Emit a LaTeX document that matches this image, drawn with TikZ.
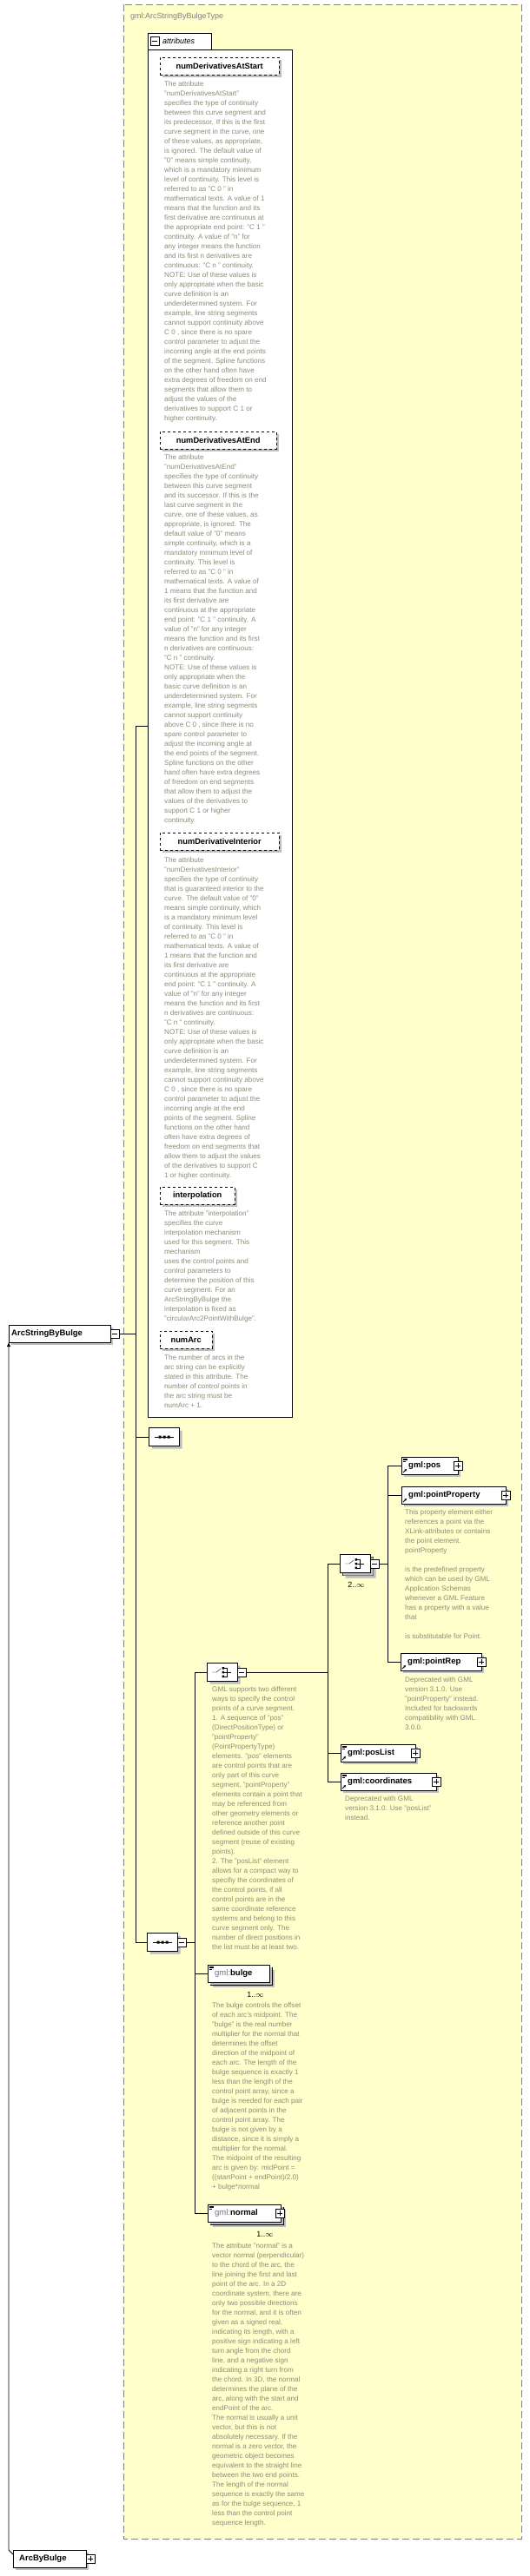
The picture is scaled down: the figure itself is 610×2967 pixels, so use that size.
\documentclass[tikz,border=0pt]{standalone}
\usepackage{fontspec}
\setmainfont{Liberation Sans}
\usetikzlibrary{shapes.misc,shadows,arrows.meta}
\definecolor{yel}{RGB}{255,255,204}
\definecolor{shadowcol}{RGB}{190,190,190}
\definecolor{desccol}{RGB}{140,140,120}
\definecolor{bordgray}{RGB}{128,128,128}
\definecolor{pfx}{RGB}{110,110,140}
\newcommand\dsc[4]{\node[dsc] (#1) at (#2,#3) {#4};}
\newcommand\pmb[4]{\node[pmbox] (#1) at (#2,#3) {};
  \draw (#2-3,#3) -- (#2+3,#3);
  \ifx+#4\draw (#2,#3-3) -- (#2,#3+3);\fi}
\newcommand\lines[2]{\draw[line width=0.5pt] (#1+2,#2+2) -- (#1+7,#2+2) (#1+2,#2+3.5) -- (#1+7,#2+3.5) (#1+2,#2+5) -- (#1+5,#2+5);}
\newcommand\refarr[2]{\draw[line width=0.9pt,-{Triangle[length=2.5pt,width=2.5pt]}] (#1+2,#2-2) -- (#1+6,#2-6);}
\newcommand\choiceicon[2]{%
  \draw (#1-12,#2) -- (#1-7,#2) -- (#1-2,#2-4);
  \fill (#1-0.5,#2-6) rectangle ++(2.5,2.5) (#1-0.5,#2-1.25) rectangle ++(2.5,2.5) (#1-0.5,#2+3.5) rectangle ++(2.5,2.5);
  \draw (#1+2,#2-5) -- (#1+5,#2-5) -- (#1+5,#2+5) -- (#1+2,#2+5) (#1+2,#2) -- (#1+10,#2);}
\newcommand\seqicon[2]{%
  \draw (#1-11,#2) -- (#1+11,#2);
  \fill (#1-6.5,#2-1.5) rectangle ++(3,3) (#1-1.5,#2-1.5) rectangle ++(3,3) (#1+3.5,#2-1.5) rectangle ++(3,3);}
\tikzset{
  shad/.style={drop shadow={shadow xshift=3pt,shadow yshift=-3pt,fill=shadowcol,opacity=1}},
  elem/.style={draw=black,fill=white,anchor=west,minimum height=20pt,inner xsep=3pt,inner ysep=0pt,
    font=\bfseries\fontsize{9.5}{11}\selectfont,align=left,shad},
  attrh/.style={draw=black,dashed,fill=white,anchor=west,minimum height=20pt,inner xsep=4pt,inner ysep=0pt,
    font=\bfseries\fontsize{9.3}{11}\selectfont,align=left,shad},
  dsc/.style={anchor=north west,inner sep=0pt,align=left,text=desccol,font=\fontsize{8.1}{11}\selectfont},
  pmbox/.style={draw=black,fill=white,minimum size=10pt,inner sep=0pt},
  symb/.style={draw=black,fill=white,chamfered rectangle,chamfered rectangle xsep=5pt,chamfered rectangle ysep=5pt,
    minimum width=35pt,minimum height=21pt,inner sep=0pt,shad},
  card/.style={font=\fontsize{9}{11}\selectfont,inner sep=0pt},
  ln/.style={draw=black,line width=0.8pt}
}
\begin{document}
\begin{tikzpicture}[x=1pt,y=-1pt]
\useasboundingbox (0,0) rectangle (610,2967);
% type container
\draw[fill=yel,draw=bordgray,dash pattern=on 8pt off 4pt,line width=0.8pt] (142,5) rectangle (600,2924);
\node[anchor=west,text=bordgray,font=\fontsize{9}{11}\selectfont,inner sep=0] (title) at (150,19) {gml:ArcStringByBulgeType};
% attributes container
\node[draw=black,fill=white,line width=0.8pt,anchor=north west,minimum width=166pt,minimum height=1575pt,inner sep=0] (attrs) at (170,57) {};
\node[draw=black,fill=white,line width=0.8pt,anchor=south west,minimum width=73pt,minimum height=19pt,inner sep=0] (attrtab) at (170,57.4) {};
\node[anchor=west,font=\itshape\fontsize{9}{11}\selectfont,inner sep=0] (attrlbl) at (187,47.5) {attributes};
\pmb{attrmin}{178}{47.5}{-}
% attributes
\node[attrh,minimum width=137pt] (a1) at (184,76) {numDerivativesAtStart};
\dsc{a1d}{189}{93}{The attribute\\"numDerivativesAtStart"\\specifies the type of continuity\\between this curve segment and\\its predecessor. If this is the first\\curve segment in the curve, one\\of these values, as appropriate,\\is ignored. The default value of\\"0" means simple continuity,\\which is a mandatory minimum\\level of continuity. This level is\\referred to as "C 0 " in\\mathematical texts. A value of 1\\means that the function and its\\first derivative are continuous at\\the appropriate end point: "C 1 "\\continuity. A value of "n" for\\any integer means the function\\and its first n derivatives are\\continuous: "C n " continuity.\\NOTE: Use of these values is\\only appropriate when the basic\\curve definition is an\\underdetermined system. For\\example, line string segments\\cannot support continuity above\\C 0 , since there is no spare\\control parameter to adjust the\\incoming angle at the end points\\of the segment. Spline functions\\on the other hand often have\\extra degrees of freedom on end\\segments that allow them to\\adjust the values of the\\derivatives to support C 1 or\\higher continuity.}
\node[attrh,minimum width=134pt] (a2) at (184,507) {numDerivativesAtEnd};
\dsc{a2d}{189}{523}{The attribute\\"numDerivativesAtEnd"\\specifies the type of continuity\\between this curve segment\\and its successor. If this is the\\last curve segment in the\\curve, one of these values, as\\appropriate, is ignored. The\\default value of "0" means\\simple continuity, which is a\\mandatory minimum level of\\continuity. This level is\\referred to as "C 0 " in\\mathematical texts. A value of\\1 means that the function and\\its first derivative are\\continuous at the appropriate\\end point: "C 1 " continuity. A\\value of "n" for any integer\\means the function and its first\\n derivatives are continuous:\\"C n " continuity.\\NOTE: Use of these values is\\only appropriate when the\\basic curve definition is an\\underdetermined system. For\\example, line string segments\\cannot support continuity\\above C 0 , since there is no\\spare control parameter to\\adjust the incoming angle at\\the end points of the segment.\\Spline functions on the other\\hand often have extra degrees\\of freedom on end segments\\that allow them to adjust the\\values of the derivatives to\\support C 1 or higher\\continuity.}
\node[attrh,minimum width=137pt] (a3) at (184,969) {numDerivativeInterior};
\dsc{a3d}{189}{987}{The attribute\\"numDerivativesInterior"\\specifies the type of continuity\\that is guaranteed interior to the\\curve. The default value of "0"\\means simple continuity, which\\is a mandatory minimum level\\of continuity. This level is\\referred to as "C 0 " in\\mathematical texts. A value of\\1 means that the function and\\its first derivative are\\continuous at the appropriate\\end point: "C 1 " continuity. A\\value of "n" for any integer\\means the function and its first\\n derivatives are continuous:\\"C n " continuity.\\NOTE: Use of these values is\\only appropriate when the basic\\curve definition is an\\underdetermined system. For\\example, line string segments\\cannot support continuity above\\C 0 , since there is no spare\\control parameter to adjust the\\incoming angle at the end\\points of the segment. Spline\\functions on the other hand\\often have extra degrees of\\freedom on end segments that\\allow them to adjust the values\\of the derivatives to support C\\1 or higher continuity.}
\node[attrh,minimum width=86pt] (a4) at (184,1377) {interpolation};
\dsc{a4d}{189}{1394}{The attribute "interpolation"\\specifies the curve\\interpolation mechanism\\used for this segment. This\\mechanism\\uses the control points and\\control parameters to\\determine the position of this\\curve segment. For an\\ArcStringByBulge the\\interpolation is fixed as\\"circularArc2PointWithBulge".}
\node[attrh,minimum width=60pt] (a5) at (184,1543) {numArc};
\dsc{a5d}{189}{1560}{The number of arcs in the\\arc string can be explicitly\\stated in this attribute. The\\number of control points in\\the arc string must be\\numArc + 1.}
% root element
\node[elem,minimum width=117pt,text width=111pt] (root) at (10,1536) {ArcStringByBulge};
\pmb{rootmin}{132}{1536}{-}
\coordinate (bus) at (156,1536);
\draw[ln] (rootmin.east) -- (bus);
\draw[ln] (156,836) -- (156,2237);
\draw[ln] (156,836) -- (attrs.west |- 0,836);
% sequence 1
\node[symb] (seq1) at (189,1655) {};
\seqicon{189}{1655}
\draw[ln] (156,1655) -- (seq1.west);
% sequence 2
\node[symb] (seq2) at (187,2237) {};
\seqicon{187}{2237}
\pmb{seq2min}{209}{2237}{-}
\draw[ln] (156,2237) -- (seq2.west);
\draw[ln] (seq2min.east) -- (224,2237);
\draw[ln] (224,1926) -- (224,2549);
% outer choice
\node[symb] (ch1) at (256,1926) {};
\choiceicon{256}{1926}
\pmb{ch1min}{278}{1926}{-}
\draw[ln] (224,1926) -- (ch1.west);
\draw[ln] (ch1min.east) -- (377,1926);
\draw[ln] (377,1801) -- (377,2052);
\dsc{ch1d}{244}{1942}{GML supports two different\\ways to specify the control\\points of a curve segment.\\1. A sequence of "pos"\\(DirectPositionType) or\\"pointProperty"\\(PointPropertyType)\\elements. "pos" elements\\are control points that are\\only part of this curve\\segment, "pointProperty"\\elements contain a point that\\may be referenced from\\other geometry elements or\\reference another point\\defined outside of this curve\\segment (reuse of existing\\points).\\2. The "posList" element\\allows for a compact way to\\specifiy the coordinates of\\the control points, if all\\control points are in the\\same coordinate reference\\systems and belong to this\\curve segment only. The\\number of direct positions in\\the list must be at least two.}
% inner choice (stacked)
\node[symb] (ch2b) at (412,1804) {};
\node[symb] (ch2) at (409,1801) {};
\choiceicon{409}{1801}
\pmb{ch2min}{431}{1801}{-}
\node[card] (ch2c) at (410,1825) {2..$\infty$};
\draw[ln] (377,1801) -- (ch2.west);
\draw[ln] (ch2min.east) -- (446,1801);
\draw[ln] (446,1688) -- (446,1914);
% pos
\node[elem,minimum width=65pt,text width=59pt] (pos) at (462,1688) {\hspace{5pt}gml:pos};
\lines{462}{1678}\refarr{462}{1698}
\pmb{posplus}{527}{1688}{+}
\draw[ln] (446,1688) -- (pos.west);
% pointProperty
\node[elem,minimum width=120pt,text width=114pt] (pp) at (462,1722) {\hspace{5pt}gml:pointProperty};
\refarr{462}{1732}
\pmb{ppplus}{582}{1722}{+}
\draw[ln] (446,1722) -- (pp.west);
\dsc{ppd}{466}{1738}{This property element either\\references a point via the\\XLink-attributes or contains\\the point element.\\pointProperty\\\mbox{}\\is the predefined property\\which can be used by GML\\Application Schemas\\whenever a GML Feature\\has a property with a value\\that\\\mbox{}\\is substitutable for Point.}
% pointRep
\node[elem,minimum width=93pt,text width=87pt] (pr) at (461,1914) {\hspace{5pt}gml:pointRep};
\refarr{461}{1924}
\pmb{prplus}{554}{1914}{+}
\draw[ln] (446,1914) -- (pr.west);
\dsc{prd}{466}{1931}{Deprecated with GML\\version 3.1.0. Use\\"pointProperty" instead.\\Included for backwards\\compatibility with GML\\3.0.0.}
% posList
\node[elem,minimum width=86pt,text width=80pt] (pl) at (392,2019) {\hspace{5pt}gml:posList};
\lines{392}{2009}\refarr{392}{2029}
\pmb{plplus}{478}{2019}{+}
\draw[ln] (377,2019) -- (pl.west);
% coordinates
\node[elem,minimum width=110pt,text width=104pt] (co) at (392,2052) {\hspace{5pt}gml:coordinates};
\lines{392}{2042}\refarr{392}{2062}
\pmb{coplus}{502}{2052}{+}
\draw[ln] (377,2052) -- (co.west);
\dsc{cod}{397}{2068}{Deprecated with GML\\version 3.1.0. Use "posList"\\instead.}
% bulge
\node[elem,minimum width=71pt,text width=65pt] (bgb) at (242,2276) {};
\node[elem,minimum width=71pt,text width=65pt] (bg) at (239,2273) {\hspace{5pt}{\mdseries\color{pfx}gml:}bulge};
\lines{239}{2263}
\node[card] (bgc) at (294,2297) {1..$\infty$};
\draw[ln] (224,2273) -- (bg.west);
\dsc{bgd}{244}{2306}{The bulge controls the offset\\of each arc's midpoint. The\\"bulge" is the real number\\multiplier for the normal that\\determines the offset\\direction of the midpoint of\\each arc. The length of the\\bulge sequence is exactly 1\\less than the length of the\\control point array, since a\\bulge is needed for each pair\\of adjacent points in the\\control point array. The\\bulge is not given by a\\distance, since it is simply a\\multiplier for the normal.\\The midpoint of the resulting\\arc is given by: midPoint =\\((startPoint + endPoint)/2.0)\\+ bulge*normal}
% normal
\node[elem,minimum width=84pt,text width=78pt] (nob) at (242,2552) {};
\node[elem,minimum width=84pt,text width=78pt] (no) at (239,2549) {\hspace{5pt}{\mdseries\color{pfx}gml:}normal};
\lines{239}{2539}
\pmb{noplus}{322}{2549}{+}
\node[card] (noc) at (305,2573) {1..$\infty$};
\draw[ln] (224,2549) -- (no.west);
\dsc{nod}{244}{2583}{The attribute "normal" is a\\vector normal (perpendicular)\\to the chord of the arc, the\\line joining the first and last\\point of the arc. In a 2D\\coordinate system, there are\\only two possible directions\\for the normal, and it is often\\given as a signed real,\\indicating its length, with a\\positive sign indicating a left\\turn angle from the chord\\line, and a negative sign\\indicating a right turn from\\the chord. In 3D, the normal\\determines the plane of the\\arc, along with the start and\\endPoint of the arc.\\The normal is usually a unit\\vector, but this is not\\absolutely necessary. If the\\normal is a zero vector, the\\geometric object becomes\\equivalent to the straight line\\between the two end points.\\The length of the normal\\sequence is exactly the same\\as for the bulge sequence, 1\\less than the control point\\sequence length.}
% ArcByBulge
\node[elem,minimum width=84pt,text width=78pt] (abb) at (15,2947) {\hspace{4pt}ArcByBulge};
\pmb{abbplus}{104}{2947}{+}
\coordinate (bend) at (10,2937);
\draw[ln,-{Triangle[length=5pt,width=4pt]}] (15,2942) -- (bend) -- (root.south west -| 10,0);
\end{tikzpicture}
\end{document}
